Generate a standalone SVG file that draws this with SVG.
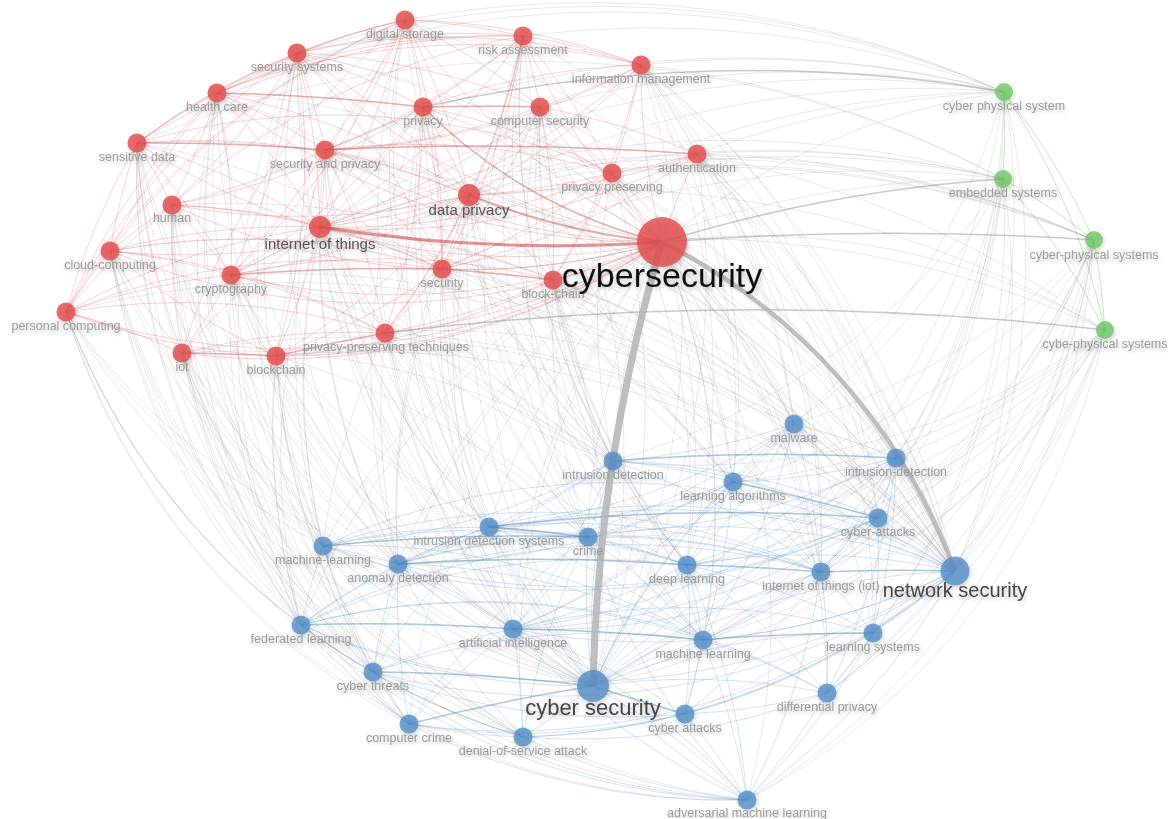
<svg xmlns="http://www.w3.org/2000/svg" width="1168" height="819" viewBox="0 0 1168 819">
<style>
.er,.eb,.ex,.eg,.edr,.edb,.edx,.thick{fill:none}
.er{stroke:#e25555;stroke-opacity:.26;stroke-width:1}
.eb{stroke:#5a92cc;stroke-opacity:.26;stroke-width:1}
.ex{stroke:#999;stroke-opacity:.22;stroke-width:1}
.eg{stroke:#7cc872;stroke-opacity:.45;stroke-width:1}
.edr{stroke:#c83c3c;stroke-opacity:.42;stroke-width:1.5}
.edb{stroke:#3f78b0;stroke-opacity:.42;stroke-width:1.5}
.edx{stroke:#777;stroke-opacity:.4;stroke-width:1.5}
.thick{stroke:#b3b3b3;stroke-opacity:.85}
.nr{fill:#e34c4c;fill-opacity:.82}
.nb{fill:#4f8ac6;fill-opacity:.78}
.ng{fill:#6cc563;fill-opacity:.78}
text{font-family:"Liberation Sans",Arial,sans-serif;text-anchor:middle}
.t{font-size:12.5px;fill:#9b9b9b}
.tm{font-size:15px;fill:#555}
</style>
<defs>
<filter id="sh" x="-60%" y="-60%" width="220%" height="220%">
<feGaussianBlur in="SourceAlpha" stdDeviation="2.5"/>
<feOffset dx="1" dy="2" result="o"/>
<feComponentTransfer><feFuncA type="linear" slope="0.22"/></feComponentTransfer>
<feMerge><feMergeNode/><feMergeNode in="SourceGraphic"/></feMerge>
</filter>
</defs>
<rect width="1168" height="819" fill="#fff"/>
<g id="connectors">
<g class="ex">
<path d="M662 242A700 700 0 0 1 794 424"/><path d="M662 242A700 700 0 0 0 613 461"/><path d="M662 242A700 700 0 0 1 896 458"/><path d="M662 242A700 700 0 0 1 733 482"/><path d="M662 242A700 700 0 0 0 489 527"/><path d="M662 242A700 700 0 0 0 588 537"/><path d="M662 242A700 700 0 0 1 878 518"/><path d="M662 242A700 700 0 0 0 323 546"/><path d="M662 242A700 700 0 0 0 398 564"/><path d="M662 242A700 700 0 0 1 687 565"/><path d="M662 242A700 700 0 0 1 821 572"/><path d="M662 242A700 700 0 0 0 301 625"/><path d="M662 242A700 700 0 0 0 513 629"/><path d="M662 242A700 700 0 0 1 703 640"/><path d="M662 242A700 700 0 0 1 873 633"/><path d="M662 242A700 700 0 0 0 373 672"/><path d="M662 242A700 700 0 0 1 827 693"/><path d="M662 242A700 700 0 0 0 409 724"/><path d="M662 242A700 700 0 0 1 685 714"/><path d="M662 242A700 700 0 0 0 523 737"/><path d="M662 242A700 700 0 0 1 747 800"/>
<path d="M662 242A700 700 0 0 1 1004 92"/><path d="M662 242A700 700 0 0 1 1105 330"/>
<path d="M593 686A800 800 0 0 1 405 20"/><path d="M593 686A800 800 0 0 1 523 36"/><path d="M593 686A800 800 0 0 1 297 53"/><path d="M593 686A800 800 0 0 0 641 65"/><path d="M593 686A800 800 0 0 1 217 93"/><path d="M593 686A800 800 0 0 1 423 107"/><path d="M593 686A800 800 0 0 0 540 107"/><path d="M593 686A800 800 0 0 1 137 143"/><path d="M593 686A800 800 0 0 1 325 150"/><path d="M593 686A800 800 0 0 0 697 154"/><path d="M593 686A800 800 0 0 0 612 173"/><path d="M593 686A800 800 0 0 1 469 195"/><path d="M593 686A800 800 0 0 1 172 205"/><path d="M593 686A800 800 0 0 1 320 227"/><path d="M593 686A800 800 0 0 1 110 251"/><path d="M593 686A800 800 0 0 1 231 275"/><path d="M593 686A800 800 0 0 1 442 269"/><path d="M593 686A800 800 0 0 0 553 280"/><path d="M593 686A800 800 0 0 1 66 312"/><path d="M593 686A800 800 0 0 1 385 333"/><path d="M593 686A800 800 0 0 1 182 353"/><path d="M593 686A800 800 0 0 1 276 356"/>
<path d="M593 686A800 800 0 0 0 1004 92"/><path d="M593 686A800 800 0 0 0 1003 179"/><path d="M593 686A800 800 0 0 0 1094 240"/><path d="M593 686A800 800 0 0 0 1105 330"/>
<path d="M955 571A900 900 0 0 0 405 20"/><path d="M955 571A900 900 0 0 0 523 36"/><path d="M955 571A900 900 0 0 0 297 53"/><path d="M955 571A900 900 0 0 0 641 65"/><path d="M955 571A900 900 0 0 0 217 93"/><path d="M955 571A900 900 0 0 0 423 107"/><path d="M955 571A900 900 0 0 0 540 107"/><path d="M955 571A900 900 0 0 0 137 143"/><path d="M955 571A900 900 0 0 0 325 150"/><path d="M955 571A900 900 0 0 0 697 154"/><path d="M955 571A900 900 0 0 0 612 173"/><path d="M955 571A900 900 0 0 0 469 195"/><path d="M955 571A900 900 0 0 0 172 205"/><path d="M955 571A900 900 0 0 0 320 227"/><path d="M955 571A900 900 0 0 0 110 251"/><path d="M955 571A900 900 0 0 0 231 275"/><path d="M955 571A900 900 0 0 0 442 269"/><path d="M955 571A900 900 0 0 0 553 280"/><path d="M955 571A900 900 0 0 0 66 312"/><path d="M955 571A900 900 0 0 0 385 333"/><path d="M955 571A900 900 0 0 0 182 353"/><path d="M955 571A900 900 0 0 0 276 356"/>
<path d="M955 571A700 700 0 0 0 1004 92"/><path d="M955 571A700 700 0 0 0 1003 179"/><path d="M955 571A700 700 0 0 0 1094 240"/><path d="M955 571A700 700 0 0 0 1105 330"/>
<path d="M613 461A700 700 0 0 1 405 20"/><path d="M489 527A700 700 0 0 1 405 20"/><path d="M323 546A700 700 0 0 1 405 20"/><path d="M513 629A700 700 0 0 1 405 20"/><path d="M301 625A700 700 0 0 1 405 20"/>
<path d="M613 461A700 700 0 0 1 523 36"/><path d="M733 482A700 700 0 0 1 523 36"/><path d="M687 565A700 700 0 0 1 523 36"/><path d="M703 640A700 700 0 0 1 523 36"/><path d="M588 537A700 700 0 0 1 523 36"/>
<path d="M323 546A700 700 0 0 1 297 53"/><path d="M398 564A700 700 0 0 1 297 53"/><path d="M301 625A700 700 0 0 1 297 53"/><path d="M373 672A700 700 0 0 1 297 53"/><path d="M489 527A700 700 0 0 1 297 53"/>
<path d="M641 65A700 700 0 0 1 794 424"/><path d="M641 65A700 700 0 0 1 896 458"/><path d="M641 65A700 700 0 0 1 733 482"/><path d="M641 65A700 700 0 0 1 687 565"/><path d="M641 65A700 700 0 0 1 821 572"/><path d="M641 65A700 700 0 0 1 878 518"/>
<path d="M323 546A700 700 0 0 1 217 93"/><path d="M301 625A700 700 0 0 1 217 93"/><path d="M373 672A700 700 0 0 1 217 93"/><path d="M398 564A700 700 0 0 1 217 93"/><path d="M409 724A700 700 0 0 1 217 93"/>
<path d="M613 461A700 700 0 0 1 423 107"/><path d="M489 527A700 700 0 0 1 423 107"/><path d="M513 629A700 700 0 0 1 423 107"/><path d="M398 564A700 700 0 0 1 423 107"/><path d="M588 537A700 700 0 0 1 423 107"/>
<path d="M613 461A700 700 0 0 1 540 107"/><path d="M733 482A700 700 0 0 1 540 107"/><path d="M588 537A700 700 0 0 1 540 107"/><path d="M687 565A700 700 0 0 1 540 107"/><path d="M703 640A700 700 0 0 1 540 107"/>
<path d="M323 546A700 700 0 0 1 137 143"/><path d="M301 625A700 700 0 0 1 137 143"/><path d="M373 672A700 700 0 0 1 137 143"/><path d="M409 724A700 700 0 0 1 137 143"/><path d="M398 564A700 700 0 0 1 137 143"/>
<path d="M489 527A700 700 0 0 1 325 150"/><path d="M323 546A700 700 0 0 1 325 150"/><path d="M398 564A700 700 0 0 1 325 150"/><path d="M513 629A700 700 0 0 1 325 150"/><path d="M613 461A700 700 0 0 1 325 150"/>
<path d="M697 154A700 700 0 0 1 794 424"/><path d="M697 154A700 700 0 0 1 896 458"/><path d="M697 154A700 700 0 0 1 878 518"/><path d="M697 154A700 700 0 0 1 821 572"/><path d="M697 154A700 700 0 0 1 733 482"/><path d="M697 154A700 700 0 0 1 873 633"/>
<path d="M612 173A700 700 0 0 1 794 424"/><path d="M613 461A700 700 0 0 1 612 173"/><path d="M612 173A700 700 0 0 1 733 482"/><path d="M612 173A700 700 0 0 1 687 565"/><path d="M612 173A700 700 0 0 1 821 572"/>
<path d="M613 461A700 700 0 0 1 469 195"/><path d="M489 527A700 700 0 0 1 469 195"/><path d="M588 537A700 700 0 0 1 469 195"/><path d="M513 629A700 700 0 0 1 469 195"/><path d="M687 565A700 700 0 0 1 469 195"/><path d="M398 564A700 700 0 0 1 469 195"/><path d="M703 640A700 700 0 0 1 469 195"/>
<path d="M323 546A700 700 0 0 1 172 205"/><path d="M301 625A700 700 0 0 1 172 205"/><path d="M373 672A700 700 0 0 1 172 205"/><path d="M409 724A700 700 0 0 1 172 205"/><path d="M523 737A700 700 0 0 1 172 205"/>
<path d="M613 461A700 700 0 0 1 320 227"/><path d="M489 527A700 700 0 0 1 320 227"/><path d="M588 537A700 700 0 0 1 320 227"/><path d="M323 546A700 700 0 0 1 320 227"/><path d="M398 564A700 700 0 0 1 320 227"/><path d="M301 625A700 700 0 0 1 320 227"/><path d="M513 629A700 700 0 0 1 320 227"/><path d="M687 565A700 700 0 0 1 320 227"/>
<path d="M323 546A700 700 0 0 1 110 251"/><path d="M301 625A700 700 0 0 1 110 251"/><path d="M373 672A700 700 0 0 1 110 251"/><path d="M409 724A700 700 0 0 1 110 251"/><path d="M523 737A700 700 0 0 1 110 251"/>
<path d="M489 527A700 700 0 0 1 231 275"/><path d="M323 546A700 700 0 0 1 231 275"/><path d="M398 564A700 700 0 0 1 231 275"/><path d="M301 625A700 700 0 0 1 231 275"/><path d="M513 629A700 700 0 0 1 231 275"/><path d="M373 672A700 700 0 0 1 231 275"/>
<path d="M613 461A700 700 0 0 1 442 269"/><path d="M489 527A700 700 0 0 1 442 269"/><path d="M588 537A700 700 0 0 1 442 269"/><path d="M398 564A700 700 0 0 1 442 269"/><path d="M513 629A700 700 0 0 1 442 269"/><path d="M687 565A700 700 0 0 1 442 269"/>
<path d="M613 461A700 700 0 0 1 553 280"/><path d="M733 482A700 700 0 0 1 553 280"/><path d="M588 537A700 700 0 0 1 553 280"/><path d="M687 565A700 700 0 0 1 553 280"/><path d="M703 640A700 700 0 0 1 553 280"/><path d="M794 424A700 700 0 0 1 553 280"/>
<path d="M301 625A700 700 0 0 1 66 312"/><path d="M373 672A700 700 0 0 1 66 312"/><path d="M409 724A700 700 0 0 1 66 312"/><path d="M523 737A700 700 0 0 1 66 312"/><path d="M323 546A700 700 0 0 1 66 312"/><path d="M398 564A700 700 0 0 1 66 312"/><path d="M747 800A700 700 0 0 1 66 312"/>
<path d="M489 527A700 700 0 0 1 385 333"/><path d="M588 537A700 700 0 0 1 385 333"/><path d="M323 546A700 700 0 0 1 385 333"/><path d="M398 564A700 700 0 0 1 385 333"/><path d="M513 629A700 700 0 0 1 385 333"/><path d="M613 461A700 700 0 0 1 385 333"/>
<path d="M323 546A700 700 0 0 1 182 353"/><path d="M301 625A700 700 0 0 1 182 353"/><path d="M373 672A700 700 0 0 1 182 353"/><path d="M409 724A700 700 0 0 1 182 353"/><path d="M523 737A700 700 0 0 1 182 353"/><path d="M398 564A700 700 0 0 1 182 353"/>
<path d="M489 527A700 700 0 0 1 276 356"/><path d="M323 546A700 700 0 0 1 276 356"/><path d="M301 625A700 700 0 0 1 276 356"/><path d="M373 672A700 700 0 0 1 276 356"/><path d="M513 629A700 700 0 0 1 276 356"/><path d="M409 724A700 700 0 0 1 276 356"/>
<path d="M747 800A700 700 0 0 1 110 251"/><path d="M747 800A700 700 0 0 1 182 353"/><path d="M523 737A700 700 0 0 1 137 143"/>
<path d="M320 227A700 700 0 0 1 821 572"/><path d="M320 227A700 700 0 0 1 733 482"/><path d="M442 269A700 700 0 0 1 733 482"/><path d="M385 333A700 700 0 0 1 687 565"/><path d="M231 275A700 700 0 0 1 687 565"/><path d="M276 356A700 700 0 0 1 588 537"/><path d="M325 150A700 700 0 0 1 733 482"/><path d="M423 107A700 700 0 0 1 794 424"/><path d="M297 53A700 700 0 0 1 794 424"/><path d="M217 93A700 700 0 0 1 613 461"/><path d="M137 143A700 700 0 0 1 613 461"/><path d="M469 195A700 700 0 0 1 896 458"/><path d="M553 280A700 700 0 0 1 878 518"/><path d="M553 280A700 700 0 0 1 821 572"/><path d="M385 333A700 700 0 0 1 794 424"/><path d="M182 353A700 700 0 0 1 613 461"/>
<path d="M697 154A1000 1000 0 0 1 1004 92"/><path d="M612 173A1000 1000 0 0 1 1004 92"/><path d="M540 107A1000 1000 0 0 1 1004 92"/><path d="M523 36A1000 1000 0 0 1 1004 92"/><path d="M405 20A1000 1000 0 0 1 1004 92"/><path d="M325 150A1000 1000 0 0 1 1004 92"/><path d="M469 195A1000 1000 0 0 1 1004 92"/><path d="M320 227A1000 1000 0 0 1 1004 92"/><path d="M217 93A1000 1000 0 0 1 1004 92"/><path d="M297 53A1000 1000 0 0 1 1004 92"/><path d="M641 65A1000 1000 0 0 1 1004 92"/>
<path d="M1004 92A700 700 0 0 1 794 424"/><path d="M1004 92A700 700 0 0 1 896 458"/><path d="M1004 92A700 700 0 0 1 821 572"/><path d="M1004 92A700 700 0 0 1 873 633"/>
<path d="M641 65A1000 1000 0 0 1 1003 179"/><path d="M697 154A1000 1000 0 0 1 1003 179"/><path d="M612 173A1000 1000 0 0 1 1003 179"/><path d="M469 195A1000 1000 0 0 1 1003 179"/><path d="M320 227A1000 1000 0 0 1 1003 179"/><path d="M442 269A1000 1000 0 0 1 1003 179"/><path d="M553 280A1000 1000 0 0 1 1003 179"/><path d="M137 143A1000 1000 0 0 1 1003 179"/>
<path d="M1003 179A700 700 0 0 1 794 424"/><path d="M1003 179A700 700 0 0 1 896 458"/><path d="M1003 179A700 700 0 0 1 878 518"/><path d="M1003 179A700 700 0 0 1 821 572"/><path d="M1003 179A700 700 0 0 1 613 461"/><path d="M1003 179A700 700 0 0 1 827 693"/>
<path d="M697 154A1000 1000 0 0 1 1094 240"/><path d="M612 173A1000 1000 0 0 1 1094 240"/><path d="M320 227A1000 1000 0 0 1 1094 240"/><path d="M469 195A1000 1000 0 0 1 1094 240"/><path d="M231 275A1000 1000 0 0 1 1094 240"/>
<path d="M1094 240A700 700 0 0 1 896 458"/><path d="M1094 240A700 700 0 0 1 878 518"/><path d="M1094 240A700 700 0 0 1 821 572"/><path d="M1094 240A700 700 0 0 1 873 633"/><path d="M1094 240A700 700 0 0 1 827 693"/><path d="M1094 240A700 700 0 0 1 794 424"/><path d="M1094 240A700 700 0 0 1 733 482"/><path d="M1094 240A700 700 0 0 1 703 640"/><path d="M1094 240A700 700 0 0 1 747 800"/><path d="M1094 240A700 700 0 0 1 685 714"/>
<path d="M697 154A1000 1000 0 0 1 1105 330"/><path d="M320 227A1000 1000 0 0 1 1105 330"/><path d="M442 269A1000 1000 0 0 1 1105 330"/>
<path d="M1105 330A700 700 0 0 1 896 458"/><path d="M1105 330A700 700 0 0 1 878 518"/><path d="M1105 330A700 700 0 0 1 821 572"/><path d="M1105 330A700 700 0 0 1 873 633"/><path d="M1105 330A700 700 0 0 1 827 693"/><path d="M1105 330A700 700 0 0 1 747 800"/><path d="M1105 330A700 700 0 0 1 703 640"/><path d="M1105 330A700 700 0 0 1 687 565"/><path d="M1105 330A700 700 0 0 1 733 482"/><path d="M1105 330A700 700 0 0 1 489 527"/><path d="M1105 330A700 700 0 0 1 613 461"/>
</g>
<g class="er">
<path d="M662 242A700 700 0 0 1 405 20"/><path d="M662 242A700 700 0 0 1 523 36"/><path d="M662 242A700 700 0 0 1 297 53"/><path d="M662 242A700 700 0 0 1 641 65"/><path d="M662 242A700 700 0 0 1 217 93"/><path d="M662 242A700 700 0 0 1 540 107"/><path d="M662 242A700 700 0 0 1 137 143"/><path d="M662 242A700 700 0 0 1 325 150"/><path d="M662 242A700 700 0 0 1 697 154"/><path d="M662 242A700 700 0 0 1 612 173"/><path d="M662 242A700 700 0 0 1 172 205"/><path d="M662 242A700 700 0 0 1 110 251"/><path d="M662 242A700 700 0 0 1 231 275"/><path d="M662 242A700 700 0 0 1 442 269"/><path d="M662 242A700 700 0 0 1 553 280"/><path d="M662 242A700 700 0 0 1 66 312"/><path d="M662 242A700 700 0 0 1 385 333"/><path d="M662 242A700 700 0 0 1 182 353"/><path d="M662 242A700 700 0 0 1 276 356"/>
<path d="M297 53A700 700 0 0 1 405 20"/><path d="M217 93A700 700 0 0 1 405 20"/><path d="M405 20A700 700 0 0 1 423 107"/><path d="M405 20A700 700 0 0 1 325 150"/><path d="M405 20A700 700 0 0 1 320 227"/><path d="M405 20A700 700 0 0 1 469 195"/><path d="M405 20A700 700 0 0 1 523 36"/><path d="M405 20A700 700 0 0 1 540 107"/><path d="M137 143A700 700 0 0 1 405 20"/><path d="M405 20A700 700 0 0 1 231 275"/><path d="M405 20A700 700 0 0 1 442 269"/><path d="M405 20A700 700 0 0 0 182 353"/><path d="M405 20A700 700 0 0 1 641 65"/>
<path d="M297 53A700 700 0 0 1 523 36"/><path d="M523 36A700 700 0 0 1 423 107"/><path d="M523 36A700 700 0 0 1 540 107"/><path d="M523 36A700 700 0 0 1 325 150"/><path d="M523 36A700 700 0 0 1 469 195"/><path d="M523 36A700 700 0 0 1 320 227"/><path d="M523 36A700 700 0 0 1 641 65"/><path d="M523 36A700 700 0 0 1 612 173"/><path d="M523 36A700 700 0 0 1 442 269"/><path d="M523 36A700 700 0 0 1 385 333"/><path d="M217 93A700 700 0 0 1 523 36"/><path d="M172 205A700 700 0 0 1 523 36"/>
<path d="M297 53A700 700 0 0 1 423 107"/><path d="M297 53A700 700 0 0 1 325 150"/><path d="M297 53A700 700 0 0 1 320 227"/><path d="M297 53A700 700 0 0 1 469 195"/><path d="M137 143A700 700 0 0 1 297 53"/><path d="M297 53A700 700 0 0 1 172 205"/><path d="M297 53A700 700 0 0 1 231 275"/><path d="M297 53A700 700 0 0 1 641 65"/><path d="M297 53A700 700 0 0 1 442 269"/><path d="M297 53A700 700 0 0 1 276 356"/><path d="M297 53A700 700 0 0 1 540 107"/><path d="M217 93A700 700 0 0 0 297 53"/>
<path d="M423 107A700 700 0 0 1 641 65"/><path d="M540 107A700 700 0 0 0 641 65"/><path d="M641 65A700 700 0 0 1 697 154"/><path d="M641 65A700 700 0 0 1 612 173"/><path d="M641 65A700 700 0 0 1 469 195"/><path d="M641 65A700 700 0 0 1 320 227"/><path d="M641 65A700 700 0 0 1 325 150"/><path d="M217 93A700 700 0 0 1 641 65"/><path d="M641 65A700 700 0 0 1 553 280"/>
<path d="M137 143A700 700 0 0 1 217 93"/><path d="M217 93A700 700 0 0 1 325 150"/><path d="M217 93A700 700 0 0 1 172 205"/><path d="M217 93A700 700 0 0 1 320 227"/><path d="M217 93A700 700 0 0 1 469 195"/><path d="M217 93A700 700 0 0 1 231 275"/><path d="M110 251A700 700 0 0 1 217 93"/>
<path d="M423 107A700 700 0 0 1 325 150"/><path d="M423 107A700 700 0 0 1 469 195"/><path d="M423 107A700 700 0 0 1 320 227"/><path d="M423 107A700 700 0 0 1 442 269"/><path d="M423 107A700 700 0 0 1 612 173"/><path d="M423 107A700 700 0 0 1 385 333"/><path d="M423 107A700 700 0 0 1 231 275"/><path d="M423 107A700 700 0 0 1 172 205"/>
<path d="M540 107A700 700 0 0 1 325 150"/><path d="M540 107A700 700 0 0 1 469 195"/><path d="M540 107A700 700 0 0 1 320 227"/><path d="M540 107A700 700 0 0 1 697 154"/><path d="M540 107A700 700 0 0 1 612 173"/><path d="M540 107A700 700 0 0 1 442 269"/><path d="M540 107A700 700 0 0 1 553 280"/>
<path d="M137 143A700 700 0 0 1 172 205"/><path d="M137 143A700 700 0 0 1 320 227"/><path d="M110 251A700 700 0 0 1 137 143"/><path d="M137 143A700 700 0 0 1 469 195"/><path d="M137 143A700 700 0 0 1 231 275"/><path d="M66 312A700 700 0 0 1 137 143"/><path d="M182 353A700 700 0 0 1 137 143"/><path d="M137 143A700 700 0 0 1 612 173"/>
<path d="M325 150A700 700 0 0 1 469 195"/><path d="M325 150A700 700 0 0 1 320 227"/><path d="M325 150A700 700 0 0 1 442 269"/><path d="M325 150A700 700 0 0 1 172 205"/><path d="M325 150A700 700 0 0 1 231 275"/><path d="M325 150A700 700 0 0 1 385 333"/><path d="M325 150A700 700 0 0 1 612 173"/>
<path d="M697 154A700 700 0 0 1 469 195"/><path d="M697 154A700 700 0 0 1 320 227"/><path d="M697 154A700 700 0 0 1 612 173"/><path d="M697 154A700 700 0 0 1 442 269"/>
<path d="M612 173A700 700 0 0 1 469 195"/><path d="M612 173A700 700 0 0 1 320 227"/><path d="M612 173A700 700 0 0 1 442 269"/><path d="M612 173A700 700 0 0 1 553 280"/>
<path d="M469 195A700 700 0 0 1 320 227"/><path d="M469 195A700 700 0 0 1 442 269"/><path d="M469 195A700 700 0 0 1 553 280"/><path d="M469 195A700 700 0 0 1 172 205"/><path d="M469 195A700 700 0 0 1 231 275"/><path d="M469 195A700 700 0 0 1 385 333"/><path d="M469 195A700 700 0 0 1 110 251"/><path d="M469 195A700 700 0 0 1 276 356"/>
<path d="M172 205A700 700 0 0 1 320 227"/><path d="M110 251A700 700 0 0 1 172 205"/><path d="M172 205A700 700 0 0 1 231 275"/><path d="M66 312A700 700 0 0 1 172 205"/><path d="M172 205A700 700 0 0 1 442 269"/><path d="M182 353A700 700 0 0 1 172 205"/>
<path d="M320 227A700 700 0 0 0 110 251"/><path d="M320 227A700 700 0 0 1 231 275"/><path d="M320 227A700 700 0 0 1 442 269"/><path d="M320 227A700 700 0 0 1 553 280"/><path d="M66 312A700 700 0 0 1 320 227"/><path d="M320 227A700 700 0 0 1 385 333"/><path d="M182 353A700 700 0 0 1 320 227"/><path d="M320 227A700 700 0 0 1 276 356"/>
<path d="M110 251A700 700 0 0 1 231 275"/><path d="M66 312A700 700 0 0 1 110 251"/><path d="M182 353A700 700 0 0 1 110 251"/><path d="M110 251A700 700 0 0 1 442 269"/><path d="M110 251A700 700 0 0 1 385 333"/><path d="M276 356A700 700 0 0 1 110 251"/>
<path d="M66 312A700 700 0 0 1 231 275"/><path d="M231 275A700 700 0 0 1 182 353"/><path d="M231 275A700 700 0 0 1 276 356"/><path d="M231 275A700 700 0 0 1 385 333"/><path d="M231 275A700 700 0 0 1 553 280"/>
<path d="M442 269A700 700 0 0 1 385 333"/><path d="M442 269A700 700 0 0 1 276 356"/><path d="M553 280A700 700 0 0 1 385 333"/><path d="M553 280A700 700 0 0 1 276 356"/>
<path d="M182 353A700 700 0 0 0 66 312"/><path d="M276 356A700 700 0 0 1 66 312"/><path d="M66 312A700 700 0 0 1 385 333"/><path d="M66 312A700 700 0 0 1 442 269"/><path d="M182 353A700 700 0 0 1 385 333"/>
<path d="M66 312A700 700 0 0 1 297 53"/><path d="M110 251A700 700 0 0 1 405 20"/><path d="M66 312A700 700 0 0 1 405 20"/><path d="M137 143A700 700 0 0 1 523 36"/><path d="M66 312A700 700 0 0 1 217 93"/>
</g>
<g class="eg">
<path d="M1004 92A700 700 0 0 1 1003 179"/><path d="M1004 92A700 700 0 0 1 1094 240"/><path d="M1004 92A700 700 0 0 1 1105 330"/><path d="M1003 179A700 700 0 0 1 1094 240"/><path d="M1003 179A700 700 0 0 1 1105 330"/><path d="M1094 240A700 700 0 0 1 1105 330"/>
</g>
<g class="eb">
<path d="M593 686A700 700 0 0 1 794 424"/><path d="M593 686A700 700 0 0 1 613 461"/><path d="M593 686A700 700 0 0 1 896 458"/><path d="M593 686A700 700 0 0 1 733 482"/><path d="M593 686A700 700 0 0 1 489 527"/><path d="M593 686A700 700 0 0 1 588 537"/><path d="M593 686A700 700 0 0 1 878 518"/><path d="M593 686A700 700 0 0 1 323 546"/><path d="M593 686A700 700 0 0 1 398 564"/><path d="M593 686A700 700 0 0 1 687 565"/><path d="M593 686A700 700 0 0 1 821 572"/><path d="M593 686A700 700 0 0 1 955 571"/><path d="M593 686A700 700 0 0 1 301 625"/><path d="M593 686A700 700 0 0 1 513 629"/><path d="M593 686A700 700 0 0 1 703 640"/><path d="M593 686A700 700 0 0 1 873 633"/><path d="M593 686A700 700 0 0 1 827 693"/><path d="M593 686A700 700 0 0 1 523 737"/><path d="M593 686A700 700 0 0 1 747 800"/>
<path d="M955 571A700 700 0 0 0 794 424"/><path d="M955 571A700 700 0 0 0 613 461"/><path d="M955 571A700 700 0 0 0 896 458"/><path d="M955 571A700 700 0 0 0 733 482"/><path d="M955 571A700 700 0 0 0 489 527"/><path d="M955 571A700 700 0 0 0 588 537"/><path d="M955 571A700 700 0 0 0 878 518"/><path d="M955 571A700 700 0 0 0 323 546"/><path d="M955 571A700 700 0 0 0 398 564"/><path d="M955 571A700 700 0 0 0 687 565"/><path d="M955 571A700 700 0 0 1 301 625"/><path d="M955 571A700 700 0 0 1 513 629"/><path d="M955 571A700 700 0 0 1 703 640"/><path d="M955 571A700 700 0 0 1 873 633"/><path d="M955 571A700 700 0 0 1 373 672"/><path d="M955 571A700 700 0 0 1 827 693"/><path d="M955 571A700 700 0 0 1 409 724"/><path d="M955 571A700 700 0 0 1 685 714"/><path d="M955 571A700 700 0 0 1 523 737"/><path d="M955 571A700 700 0 0 1 747 800"/>
<path d="M794 424A700 700 0 0 1 613 461"/><path d="M794 424A700 700 0 0 1 896 458"/><path d="M794 424A700 700 0 0 1 733 482"/><path d="M794 424A700 700 0 0 1 489 527"/><path d="M794 424A700 700 0 0 1 687 565"/><path d="M794 424A700 700 0 0 1 821 572"/><path d="M794 424A700 700 0 0 1 513 629"/><path d="M794 424A700 700 0 0 1 878 518"/><path d="M794 424A700 700 0 0 1 703 640"/><path d="M794 424A700 700 0 0 1 398 564"/>
<path d="M613 461A700 700 0 0 1 733 482"/><path d="M613 461A700 700 0 0 1 489 527"/><path d="M613 461A700 700 0 0 1 588 537"/><path d="M613 461A700 700 0 0 1 687 565"/><path d="M613 461A700 700 0 0 1 821 572"/><path d="M613 461A700 700 0 0 1 513 629"/><path d="M613 461A700 700 0 0 1 703 640"/><path d="M613 461A700 700 0 0 1 323 546"/><path d="M613 461A700 700 0 0 1 398 564"/><path d="M613 461A700 700 0 0 1 878 518"/>
<path d="M896 458A700 700 0 0 1 733 482"/><path d="M896 458A700 700 0 0 1 878 518"/><path d="M896 458A700 700 0 0 1 821 572"/><path d="M896 458A700 700 0 0 1 687 565"/><path d="M896 458A700 700 0 0 1 873 633"/><path d="M896 458A700 700 0 0 1 703 640"/><path d="M896 458A700 700 0 0 1 513 629"/><path d="M896 458A700 700 0 0 1 489 527"/><path d="M896 458A700 700 0 0 1 827 693"/>
<path d="M733 482A700 700 0 0 1 489 527"/><path d="M733 482A700 700 0 0 1 588 537"/><path d="M733 482A700 700 0 0 1 687 565"/><path d="M733 482A700 700 0 0 1 821 572"/><path d="M733 482A700 700 0 0 1 513 629"/><path d="M733 482A700 700 0 0 1 703 640"/><path d="M733 482A700 700 0 0 1 398 564"/>
<path d="M323 546A700 700 0 0 1 489 527"/><path d="M398 564A700 700 0 0 1 489 527"/><path d="M489 527A700 700 0 0 1 687 565"/><path d="M489 527A700 700 0 0 1 821 572"/><path d="M489 527A700 700 0 0 1 513 629"/><path d="M489 527A700 700 0 0 1 703 640"/><path d="M301 625A700 700 0 0 1 489 527"/><path d="M373 672A700 700 0 0 1 489 527"/>
<path d="M398 564A700 700 0 0 1 588 537"/><path d="M588 537A700 700 0 0 1 687 565"/><path d="M588 537A700 700 0 0 1 513 629"/><path d="M588 537A700 700 0 0 1 703 640"/><path d="M588 537A700 700 0 0 1 821 572"/><path d="M409 724A700 700 0 0 1 588 537"/><path d="M523 737A700 700 0 0 1 588 537"/>
<path d="M878 518A700 700 0 0 1 821 572"/><path d="M878 518A700 700 0 0 1 687 565"/><path d="M878 518A700 700 0 0 1 703 640"/><path d="M878 518A700 700 0 0 1 873 633"/><path d="M878 518A700 700 0 0 1 513 629"/><path d="M878 518A700 700 0 0 1 398 564"/><path d="M878 518A700 700 0 0 1 323 546"/>
<path d="M323 546A700 700 0 0 1 398 564"/><path d="M301 625A700 700 0 0 1 323 546"/><path d="M323 546A700 700 0 0 1 513 629"/><path d="M373 672A700 700 0 0 1 323 546"/><path d="M323 546A700 700 0 0 1 687 565"/><path d="M323 546A700 700 0 0 1 821 572"/><path d="M409 724A700 700 0 0 1 323 546"/><path d="M323 546A700 700 0 0 1 703 640"/><path d="M523 737A700 700 0 0 1 323 546"/>
<path d="M398 564A700 700 0 0 1 821 572"/><path d="M301 625A700 700 0 0 1 398 564"/><path d="M398 564A700 700 0 0 1 513 629"/><path d="M373 672A700 700 0 0 1 398 564"/><path d="M398 564A700 700 0 0 1 703 640"/><path d="M409 724A700 700 0 0 1 398 564"/><path d="M523 737A700 700 0 0 1 398 564"/>
<path d="M687 565A700 700 0 0 1 513 629"/><path d="M687 565A700 700 0 0 1 703 640"/><path d="M687 565A700 700 0 0 1 873 633"/><path d="M301 625A700 700 0 0 1 687 565"/><path d="M687 565A700 700 0 0 1 685 714"/><path d="M687 565A700 700 0 0 1 827 693"/><path d="M687 565A700 700 0 0 1 747 800"/>
<path d="M821 572A700 700 0 0 1 703 640"/><path d="M821 572A700 700 0 0 1 873 633"/><path d="M821 572A700 700 0 0 1 827 693"/><path d="M821 572A700 700 0 0 1 513 629"/><path d="M821 572A700 700 0 0 1 685 714"/><path d="M821 572A700 700 0 0 1 747 800"/><path d="M301 625A700 700 0 0 1 821 572"/>
<path d="M301 625A700 700 0 0 1 703 640"/><path d="M373 672A700 700 0 0 1 301 625"/><path d="M409 724A700 700 0 0 1 301 625"/><path d="M523 737A700 700 0 0 1 301 625"/><path d="M301 625A700 700 0 0 1 827 693"/><path d="M747 800A700 700 0 0 1 301 625"/>
<path d="M373 672A700 700 0 0 1 513 629"/><path d="M409 724A700 700 0 0 1 513 629"/><path d="M513 629A700 700 0 0 1 523 737"/><path d="M513 629A700 700 0 0 1 685 714"/><path d="M513 629A700 700 0 0 1 873 633"/><path d="M513 629A700 700 0 0 1 747 800"/>
<path d="M703 640A700 700 0 0 1 827 693"/><path d="M703 640A700 700 0 0 1 685 714"/><path d="M703 640A700 700 0 0 1 747 800"/><path d="M373 672A700 700 0 0 1 703 640"/>
<path d="M873 633A700 700 0 0 1 827 693"/><path d="M873 633A700 700 0 0 1 685 714"/><path d="M873 633A700 700 0 0 1 747 800"/>
<path d="M409 724A700 700 0 0 1 373 672"/><path d="M523 737A700 700 0 0 1 373 672"/><path d="M373 672A700 700 0 0 0 685 714"/><path d="M747 800A700 700 0 0 1 373 672"/>
<path d="M827 693A700 700 0 0 1 685 714"/><path d="M827 693A700 700 0 0 1 747 800"/><path d="M827 693A700 700 0 0 1 523 737"/>
<path d="M523 737A700 700 0 0 1 409 724"/><path d="M409 724A700 700 0 0 0 685 714"/><path d="M685 714A700 700 0 0 1 747 800"/><path d="M747 800A700 700 0 0 1 523 737"/><path d="M685 714A700 700 0 0 1 523 737"/><path d="M747 800A700 700 0 0 1 409 724"/><path d="M747 800A700 700 0 0 1 588 537"/><path d="M747 800A700 700 0 0 1 513 629"/><path d="M747 800A700 700 0 0 1 489 527"/>
</g>
<g class="edr">
<path d="M662 242A500 500 0 0 1 423 107"/>
<path d="M662 242A700 700 0 0 1 469 195" stroke-width="2.2"/>
<path d="M662 242A1500 1500 0 0 1 320 227" stroke-width="3" stroke-opacity=".55"/>
<path d="M217 93A2000 2000 0 0 1 423 107"/><path d="M137 143A2000 2000 0 0 1 325 150"/><path d="M325 150A3000 3000 0 0 1 697 154"/><path d="M423 107A2000 2000 0 0 1 540 107"/><path d="M231 275A2000 2000 0 0 1 442 269"/><path d="M442 269A2000 2000 0 0 1 553 280"/><path d="M276 356A2000 2000 0 0 1 385 333"/><path d="M182 353A2000 2000 0 0 1 276 356"/>
</g>
<g class="edb">
<path d="M613 461A2000 2000 0 0 1 896 458"/><path d="M733 482A2000 2000 0 0 1 878 518"/><path d="M489 527A2000 2000 0 0 1 588 537"/><path d="M323 546A2000 2000 0 0 1 588 537"/><path d="M398 564A2000 2000 0 0 1 687 565"/><path d="M687 565A2000 2000 0 0 1 821 572"/><path d="M821 572A2000 2000 0 0 1 955 571"/><path d="M301 625A2000 2000 0 0 1 513 629"/><path d="M513 629A2000 2000 0 0 1 703 640"/><path d="M703 640A2000 2000 0 0 1 873 633"/><path d="M373 672A2000 2000 0 0 1 593 686"/><path d="M409 724A2000 2000 0 0 1 593 686"/><path d="M685 714A2000 2000 0 0 1 593 686"/><path d="M489 527A2000 2000 0 0 1 878 518"/>
</g>
<g class="edx">
<path d="M423 107A1500 1500 0 0 1 1004 92"/><path d="M662 242A1500 1500 0 0 1 1003 179"/><path d="M662 242A3000 3000 0 0 1 1094 240"/><path d="M385 333A3000 3000 0 0 1 1105 330"/>
</g>
<g class="thick">
<path d="M593 686A1700 1700 0 0 1 662 242" stroke-width="7"/>
<path d="M662 242A600 600 0 0 1 955 571" stroke-width="4.5"/>
</g>
</g>
<g id="nodes" filter="url(#sh)">
<g id="n-digital-storage"><circle class="nr" cx="405" cy="20" r="9.5"/><text class="t" x="405" y="38">digital storage</text></g>
<g id="n-risk-assessment"><circle class="nr" cx="523" cy="36" r="9.5"/><text class="t" x="523" y="54">risk assessment</text></g>
<g id="n-security-systems"><circle class="nr" cx="297" cy="53" r="9.5"/><text class="t" x="297" y="71">security systems</text></g>
<g id="n-information-management"><circle class="nr" cx="641" cy="65" r="9.5"/><text class="t" x="641" y="83">information management</text></g>
<g id="n-health-care"><circle class="nr" cx="217" cy="93" r="9.5"/><text class="t" x="217" y="111">health care</text></g>
<g id="n-privacy"><circle class="nr" cx="423" cy="107" r="9.5"/><text class="t" x="423" y="125">privacy</text></g>
<g id="n-computer-security"><circle class="nr" cx="540" cy="107" r="9.5"/><text class="t" x="540" y="125">computer security</text></g>
<g id="n-sensitive-data"><circle class="nr" cx="137" cy="143" r="9.5"/><text class="t" x="137" y="161">sensitive data</text></g>
<g id="n-security-and-privacy"><circle class="nr" cx="325" cy="150" r="9.5"/><text class="t" x="325" y="168">security and privacy</text></g>
<g id="n-authentication"><circle class="nr" cx="697" cy="154" r="9.5"/><text class="t" x="697" y="172">authentication</text></g>
<g id="n-privacy-preserving"><circle class="nr" cx="612" cy="173" r="9.5"/><text class="t" x="612" y="191">privacy preserving</text></g>
<g id="n-data-privacy"><circle class="nr" cx="469" cy="195" r="11"/><text class="tm" x="469" y="215" font-size="14.5">data privacy</text></g>
<g id="n-human"><circle class="nr" cx="172" cy="205" r="9.5"/><text class="t" x="172" y="222">human</text></g>
<g id="n-internet-of-things"><circle class="nr" cx="320" cy="227" r="11"/><text class="tm" x="320" y="249">internet of things</text></g>
<g id="n-cloud-computing"><circle class="nr" cx="110" cy="251" r="9.5"/><text class="t" x="110" y="269">cloud-computing</text></g>
<g id="n-cryptography"><circle class="nr" cx="231" cy="275" r="9.5"/><text class="t" x="231" y="293">cryptography</text></g>
<g id="n-security"><circle class="nr" cx="442" cy="269" r="9.5"/><text class="t" x="442" y="287">security</text></g>
<g id="n-block-chain"><circle class="nr" cx="553" cy="280" r="9.5"/><text class="t" x="553" y="298">block-chain</text></g>
<g id="n-personal-computing"><circle class="nr" cx="66" cy="312" r="9.5"/><text class="t" x="66" y="330">personal computing</text></g>
<g id="n-privacy-preserving-techniques"><circle class="nr" cx="385" cy="333" r="9.5"/><text class="t" x="386" y="351">privacy-preserving techniques</text></g>
<g id="n-iot"><circle class="nr" cx="182" cy="353" r="9.5"/><text class="t" x="182" y="371">iot</text></g>
<g id="n-blockchain"><circle class="nr" cx="276" cy="356" r="9.5"/><text class="t" x="276" y="374">blockchain</text></g>
<g id="n-cybersecurity"><circle class="nr" cx="662" cy="242" r="25"/><text x="662" y="287" font-size="34" fill="#111">cybersecurity</text></g>
<g id="n-cyber-physical-system"><circle class="ng" cx="1004" cy="92" r="9"/><text class="t" x="1004" y="110">cyber physical system</text></g>
<g id="n-embedded-systems"><circle class="ng" cx="1003" cy="179" r="9"/><text class="t" x="1003" y="197">embedded systems</text></g>
<g id="n-cyber-physical-systems"><circle class="ng" cx="1094" cy="240" r="9"/><text class="t" x="1094" y="259">cyber-physical systems</text></g>
<g id="n-cybe-physical-systems"><circle class="ng" cx="1105" cy="330" r="9"/><text class="t" x="1105" y="348">cybe-physical systems</text></g>
<g id="n-malware"><circle class="nb" cx="794" cy="424" r="9.5"/><text class="t" x="794" y="442">malware</text></g>
<g id="n-intrusion-detection"><circle class="nb" cx="613" cy="461" r="9.5"/><text class="t" x="613" y="479">intrusion detection</text></g>
<g id="n-intrusion-detection-2"><circle class="nb" cx="896" cy="458" r="9.5"/><text class="t" x="896" y="476">intrusion-detection</text></g>
<g id="n-learning-algorithms"><circle class="nb" cx="733" cy="482" r="9.5"/><text class="t" x="733" y="500">learning algorithms</text></g>
<g id="n-intrusion-detection-systems"><circle class="nb" cx="489" cy="527" r="9.5"/><text class="t" x="489" y="545">intrusion detection systems</text></g>
<g id="n-crime"><circle class="nb" cx="588" cy="537" r="9.5"/><text class="t" x="588" y="555">crime</text></g>
<g id="n-cyber-attacks-2"><circle class="nb" cx="878" cy="518" r="9.5"/><text class="t" x="878" y="536">cyber-attacks</text></g>
<g id="n-machine-learning-2"><circle class="nb" cx="323" cy="546" r="9.5"/><text class="t" x="323" y="564">machine-learning</text></g>
<g id="n-anomaly-detection"><circle class="nb" cx="398" cy="564" r="9.5"/><text class="t" x="398" y="582">anomaly detection</text></g>
<g id="n-deep-learning"><circle class="nb" cx="687" cy="565" r="9.5"/><text class="t" x="687" y="583">deep learning</text></g>
<g id="n-internet-of-things-iot"><circle class="nb" cx="821" cy="572" r="9.5"/><text class="t" x="821" y="590">internet of things (iot)</text></g>
<g id="n-federated-learning"><circle class="nb" cx="301" cy="625" r="9.5"/><text class="t" x="301" y="643">federated learning</text></g>
<g id="n-artificial-intelligence"><circle class="nb" cx="513" cy="629" r="9.5"/><text class="t" x="513" y="647">artificial intelligence</text></g>
<g id="n-machine-learning"><circle class="nb" cx="703" cy="640" r="9.5"/><text class="t" x="703" y="658">machine learning</text></g>
<g id="n-learning-systems"><circle class="nb" cx="873" cy="633" r="9.5"/><text class="t" x="873" y="651">learning systems</text></g>
<g id="n-cyber-threats"><circle class="nb" cx="373" cy="672" r="9.5"/><text class="t" x="373" y="690">cyber threats</text></g>
<g id="n-differential-privacy"><circle class="nb" cx="827" cy="693" r="9.5"/><text class="t" x="827" y="711">differential privacy</text></g>
<g id="n-computer-crime"><circle class="nb" cx="409" cy="724" r="9.5"/><text class="t" x="409" y="742">computer crime</text></g>
<g id="n-cyber-attacks"><circle class="nb" cx="685" cy="714" r="9.5"/><text class="t" x="685" y="732">cyber attacks</text></g>
<g id="n-denial-of-service-attack"><circle class="nb" cx="523" cy="737" r="9.5"/><text class="t" x="523" y="755">denial-of-service attack</text></g>
<g id="n-adversarial-machine-learning"><circle class="nb" cx="747" cy="800" r="9.5"/><text class="t" x="747" y="817">adversarial machine learning</text></g>
<g id="n-network-security"><circle class="nb" cx="955" cy="571" r="14.5"/><text x="955" y="597" font-size="20" fill="#444">network security</text></g>
<g id="n-cyber-security"><circle class="nb" cx="593" cy="686" r="16"/><text x="593" y="715" font-size="22" fill="#444">cyber security</text></g>
</g>
</svg>
